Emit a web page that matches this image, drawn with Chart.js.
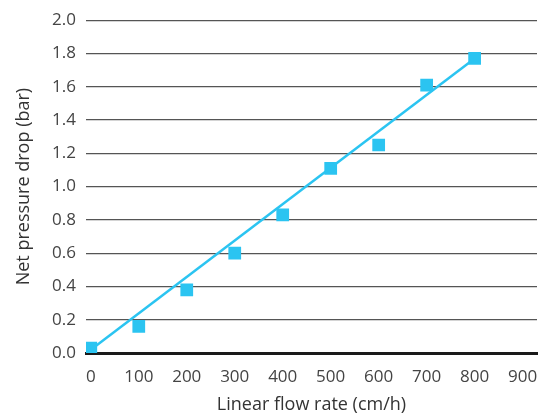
<!DOCTYPE html>
<html>
<head>
<meta charset="utf-8">
<script src="https://cdn.jsdelivr.net/npm/chart.js@4"></script>
<style>
  html, body { margin: 0; padding: 0; background: #fff; }
  #wrap { width: 553px; height: 417px; }
</style>
</head>
<body>
<div id="wrap"><canvas id="myChart" width="553" height="417"></canvas></div>
<script>
// measured points
const flowRates = [0, 100, 200, 300, 400, 500, 600, 700, 800];
const pressureDrops = [0.03, 0.16, 0.38, 0.60, 0.83, 1.11, 1.25, 1.61, 1.77];
// fitted line, two ends
const fitX = [0, 800];
const fitY = [0.02, 1.77];
const xTicks = [0, 100, 200, 300, 400, 500, 600, 700, 800, 900];
const yTicks = [0, 0.2, 0.4, 0.6, 0.8, 1.0, 1.2, 1.4, 1.6, 1.8, 2.0];

const cyan = '#2bc4f1';
const tickFont = { family: 'Open Sans', size: 17 };
const titleFont = { family: 'Open Sans', size: 18 };

const ctx = document.getElementById('myChart');

new Chart(ctx, {
  type: 'scatter',
  data: {
    datasets: [
      {
        label: 'fit',
        type: 'line',
        data: fitX.map((x, i) => ({ x: x, y: fitY[i] })),
        borderColor: cyan,
        borderWidth: 2.5,
        pointRadius: 0,
        fill: false,
      },
      {
        label: 'measured',
        data: flowRates.map((x, i) => ({ x: x, y: pressureDrops[i] })),
        backgroundColor: cyan,
        borderWidth: 0,
        pointStyle: 'rect',
        pointRadius: 9,
      },
    ],
  },
  options: {
    responsive: false,
    animation: false,
    layout: { padding: { top: 17, right: 16, left: 0, bottom: 0 } },
    plugins: { legend: { display: false }, tooltip: { enabled: false } },
    scales: {
      x: {
        type: 'linear',
        min: -10,
        max: 930,
        afterBuildTicks: (scale) => {
          scale.ticks = xTicks.map((v) => ({ value: v }));
        },
        afterFit: (scale) => {
          scale.height = 64;
        },
        grid: { display: false, drawTicks: false },
        border: { display: true, color: '#1a1a1a', width: 3 },
        ticks: { color: '#444', font: tickFont, padding: 14, maxRotation: 0 },
        title: {
          display: true,
          text: 'Linear flow rate (cm/h)',
          color: '#333',
          font: titleFont,
          padding: { top: 0, bottom: 1 },
        },
      },
      y: {
        type: 'linear',
        min: 0,
        max: 2,
        afterBuildTicks: (scale) => {
          scale.ticks = yTicks.map((v) => ({ value: v }));
        },
        afterFit: (scale) => {
          scale.width = 86;
        },
        grid: {
          drawTicks: false,
          color: (c) => (c.tick && c.tick.value === 0 ? 'rgba(0,0,0,0)' : '#555'),
          lineWidth: 1.2,
        },
        border: { display: false },
        ticks: {
          color: '#444',
          font: tickFont,
          padding: 10,
          callback: (v) => v.toFixed(1),
        },
        title: {
          display: true,
          text: 'Net pressure drop (bar)',
          color: '#333',
          font: titleFont,
          padding: { top: 13, bottom: 0 },
        },
      },
    },
  },
});
</script>
</body>
</html>
